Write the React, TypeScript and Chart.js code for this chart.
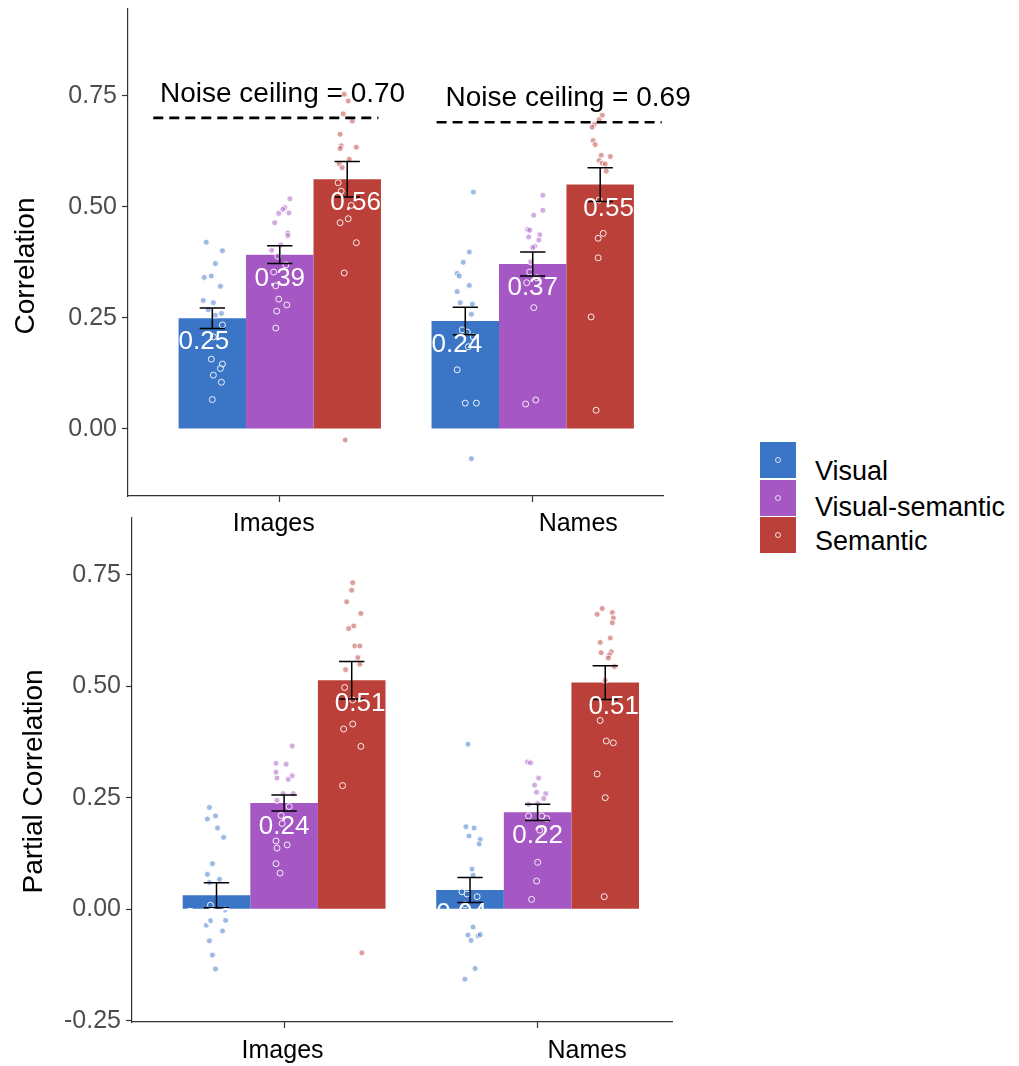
import React, { useEffect, useRef } from 'react';
import { Chart, registerables } from 'chart.js';

Chart.register(...registerables);

const FONT = '"Liberation Sans", Arial, Helvetica, sans-serif';
const AXIS_COLOR = '#333333';
const TICK_TEXT = '#4D4D4D';

// ---- categories / series ----------------------------------------------
const stimuli = ['Images', 'Names'];
const conditions = ['Visual', 'Visual-semantic', 'Semantic'];
const conditionColors = ['#3B75C6', '#A557C4', '#BC403A'];
const pointFills = ['rgba(59,117,198,0.5)', 'rgba(165,87,196,0.5)', 'rgba(188,64,58,0.5)'];

// Correlation: mean and standard error, [Images, Names]
const corrVisual = [0.249, 0.243];
const corrVisualSemantic = [0.392, 0.371];
const corrSemantic = [0.562, 0.55];
const corrSeVisual = [0.023, 0.031];
const corrSeVisualSemantic = [0.02, 0.027];
const corrSeSemantic = [0.04, 0.038];
const noiseCeiling = [0.7, 0.69];

// Partial correlation: mean and standard error, [Images, Names]
const partialVisual = [0.031, 0.043];
const partialVisualSemantic = [0.238, 0.217];
const partialSemantic = [0.513, 0.508];
const partialSeVisual = [0.028, 0.028];
const partialSeVisualSemantic = [0.018, 0.018];
const partialSeSemantic = [0.042, 0.038];

const corrTicks = [0, 0.25, 0.5, 0.75];
const partialTicks = [-0.25, 0, 0.25, 0.5, 0.75];

// Per-subject values: [horizontal jitter (category units), r]
const corrImagesVisual = [[-0.024, 0.42], [0.04, 0.401], [0.012, 0.372], [-0.032, 0.341], [-0.004, 0.344], [0.032, 0.321], [-0.036, 0.289], [0.004, 0.284], [-0.016, 0.268], [0.012, 0.256], [0.036, 0.26], [0.04, 0.234], [0.004, 0.207], [-0.004, 0.157], [0.04, 0.146], [0.032, 0.136], [0.004, 0.121], [0.036, 0.105], [0, 0.066]];
const corrImagesVisualSemantic = [[0.04, 0.518], [0.02, 0.498], [0.012, 0.494], [-0.004, 0.485], [0.036, 0.486], [-0.02, 0.464], [0.032, 0.441], [0.032, 0.435], [0.004, 0.414], [-0.032, 0.402], [-0.008, 0.389], [0.024, 0.369], [-0.024, 0.353], [-0.016, 0.322], [-0.004, 0.292], [0.028, 0.279], [-0.012, 0.265], [-0.016, 0.227]];
const corrImagesSemantic = [[-0.012, 0.753], [0.004, 0.738], [-0.016, 0.709], [0.02, 0.693], [-0.028, 0.663], [-0.024, 0.637], [-0.028, 0.631], [0.036, 0.634], [0.008, 0.607], [-0.032, 0.597], [-0.02, 0.588], [-0.036, 0.554], [-0.024, 0.535], [0.016, 0.503], [0.004, 0.473], [-0.028, 0.464], [0.036, 0.419], [-0.012, 0.351], [-0.008, -0.025]];
const corrNamesVisual = [[0.032, 0.533], [0.016, 0.398], [-0.008, 0.375], [-0.032, 0.35], [-0.024, 0.344], [0.016, 0.323], [-0.032, 0.309], [-0.02, 0.284], [0.028, 0.281], [0.024, 0.258], [-0.012, 0.223], [0.008, 0.218], [0.032, 0.207], [0.012, 0.185], [-0.032, 0.133], [0, 0.058], [0.044, 0.058], [0.024, -0.067]];
const corrNamesVisualSemantic = [[0.04, 0.526], [0.04, 0.492], [0.004, 0.481], [-0.02, 0.449], [-0.012, 0.447], [0.028, 0.437], [-0.016, 0.432], [0.024, 0.425], [0.008, 0.411], [0, 0.408], [-0.008, 0.376], [-0.012, 0.353], [0.016, 0.34], [-0.024, 0.329], [0.004, 0.273], [0.012, 0.065], [-0.028, 0.056]];
const corrNamesSemantic = [[0.008, 0.706], [-0.004, 0.696], [-0.024, 0.685], [-0.032, 0.679], [-0.028, 0.649], [-0.02, 0.64], [0.004, 0.616], [0.04, 0.613], [-0.004, 0.604], [0.008, 0.598], [0.02, 0.596], [0.024, 0.58], [-0.004, 0.515], [0.012, 0.44], [-0.008, 0.429], [-0.008, 0.385], [-0.036, 0.252], [-0.016, 0.042]];

const partialImagesVisual = [[-0.028, 0.228], [-0.036, 0.202], [-0.004, 0.209], [0.004, 0.182], [0.028, 0.161], [-0.016, 0.102], [-0.036, 0.078], [0.012, 0.067], [-0.028, 0.06], [-0.024, 0.009], [0.032, -0.002], [-0.024, -0.026], [0.036, -0.025], [-0.04, -0.036], [0.024, -0.049], [-0.028, -0.071], [-0.016, -0.103], [-0.004, -0.134]];
const partialImagesVisualSemantic = [[0.032, 0.366], [-0.032, 0.327], [0.008, 0.325], [-0.032, 0.307], [0.032, 0.299], [-0.028, 0.294], [0.016, 0.291], [-0.004, 0.259], [0.036, 0.259], [-0.028, 0.244], [0.02, 0.23], [-0.012, 0.21], [-0.008, 0.192], [-0.032, 0.153], [0.012, 0.144], [-0.028, 0.137], [-0.032, 0.102], [-0.016, 0.081]];
const partialImagesSemantic = [[0.004, 0.732], [0, 0.715], [-0.02, 0.689], [0.036, 0.663], [0.008, 0.635], [-0.012, 0.629], [0.012, 0.59], [0.032, 0.59], [0.024, 0.564], [0.032, 0.549], [-0.024, 0.537], [-0.028, 0.497], [0.004, 0.469], [0.004, 0.415], [-0.032, 0.404], [0.036, 0.365], [-0.036, 0.277], [0.04, -0.098]];
const partialNamesVisual = [[-0.008, 0.37], [-0.016, 0.185], [0.016, 0.182], [-0.004, 0.164], [0.04, 0.156], [0.036, 0.146], [0.008, 0.09], [0.012, 0.076], [-0.032, 0.039], [-0.012, 0.034], [0.028, 0.028], [-0.02, 0.01], [0.012, -0.04], [-0.008, -0.058], [0.032, -0.06], [0.04, -0.057], [0.004, -0.07], [0.02, -0.133], [-0.02, -0.157]];
const partialNamesVisualSemantic = [[-0.04, 0.33], [-0.028, 0.328], [0.004, 0.294], [-0.012, 0.278], [-0.004, 0.262], [0.032, 0.259], [0.024, 0.248], [-0.036, 0.235], [0, 0.237], [-0.036, 0.209], [0.016, 0.209], [0.036, 0.203], [0.008, 0.177], [0, 0.105], [-0.004, 0.063], [-0.024, 0.022]];
const partialNamesSemantic = [[-0.012, 0.674], [-0.032, 0.661], [0.028, 0.665], [0.032, 0.653], [0.028, 0.642], [0.02, 0.608], [-0.02, 0.598], [0.024, 0.577], [-0.016, 0.575], [0.016, 0.57], [0.012, 0.563], [0.036, 0.544], [0, 0.513], [-0.02, 0.423], [0.004, 0.377], [0.032, 0.373], [-0.032, 0.303], [0, 0.25], [-0.004, 0.028]];

// ---- layout ---------------------------------------------------------------
const CANVAS_W = 720;
const DODGE = 0.8 / 3; // bar dodge inside a category
const LABEL_DODGE = 0.3; // value-label dodge
const CAP_HALF = 0.05;

const topPanel = {
  title: 'Correlation',
  means: [corrVisual, corrVisualSemantic, corrSemantic],
  se: [corrSeVisual, corrSeVisualSemantic, corrSeSemantic],
  points: [
    [corrImagesVisual, corrNamesVisual],
    [corrImagesVisualSemantic, corrNamesVisualSemantic],
    [corrImagesSemantic, corrNamesSemantic],
  ],
  yTicks: corrTicks,
  yMin: -0.151,
  yMax: 0.945,
  xMin: 0.4,
  xMax: 2.515,
  ceiling: noiseCeiling,
  ceilingSpan: [[0.5, 1.39], [1.62, 2.51]],
  ceilingTextX: [1.011, 2.14],
  canvasTop: -16,
  canvasHeight: 561,
  padTop: 25,
  padRight: CANVAS_W - 663,
  yAxisWidth: 128,
  xAxisHeight: 49,
  titleBaselineX: 33.5,
  titleCenterY: 266,
  catLabelX: [0.976, 2.18],
  catLabelBaseline: 531,
};

const bottomPanel = {
  title: 'Partial Correlation',
  means: [partialVisual, partialVisualSemantic, partialSemantic],
  se: [partialSeVisual, partialSeVisualSemantic, partialSeSemantic],
  points: [
    [partialImagesVisual, partialNamesVisual],
    [partialImagesVisualSemantic, partialNamesVisualSemantic],
    [partialImagesSemantic, partialNamesSemantic],
  ],
  yTicks: partialTicks,
  yMin: -0.253,
  yMax: 0.877,
  xMin: 0.4,
  xMax: 2.53,
  ceiling: null as number[] | null,
  ceilingSpan: [] as number[][],
  ceilingTextX: [] as number[],
  canvasTop: 494,
  canvasHeight: 572,
  padTop: 24,
  padRight: CANVAS_W - 672,
  yAxisWidth: 132,
  xAxisHeight: 44,
  titleBaselineX: 41.7,
  titleCenterY: 781.5,
  catLabelX: [0.994, 2.195],
  catLabelBaseline: 1058,
};

function decorPlugin(p: any) {
  return {
    id: 'panelDecor',
    afterDatasetsDraw(chart: any) {
      const { ctx } = chart;
      const xs = chart.scales.x;
      const ys = chart.scales.y;
      ctx.save();

      // noise ceiling
      if (p.ceiling) {
        p.ceiling.forEach((c: number, k: number) => {
          const y = ys.getPixelForValue(c);
          ctx.beginPath();
          ctx.setLineDash([10, 6]);
          ctx.lineWidth = 2.6;
          ctx.strokeStyle = '#000';
          ctx.moveTo(xs.getPixelForValue(p.ceilingSpan[k][0]), y);
          ctx.lineTo(xs.getPixelForValue(p.ceilingSpan[k][1]), y);
          ctx.stroke();
          ctx.setLineDash([]);
          ctx.font = `28px ${FONT}`;
          ctx.fillStyle = '#000';
          ctx.textAlign = 'center';
          ctx.textBaseline = 'alphabetic';
          ctx.fillText(
            `Noise ceiling = ${c.toFixed(2)}`,
            xs.getPixelForValue(p.ceilingTextX[k]),
            ys.getPixelForValue(c + 0.036)
          );
        });
      }

      // error bars
      ctx.strokeStyle = '#000';
      ctx.lineWidth = 1.5;
      p.means.forEach((series: number[], i: number) => {
        const meta = chart.getDatasetMeta(i);
        series.forEach((m: number, k: number) => {
          const bar = meta.data[k];
          const cx = bar.x;
          const half = xs.getPixelForValue(k + 1 + CAP_HALF) - xs.getPixelForValue(k + 1);
          const yt = ys.getPixelForValue(m + p.se[i][k]);
          const yb = ys.getPixelForValue(m - p.se[i][k]);
          ctx.beginPath();
          ctx.moveTo(cx, yt);
          ctx.lineTo(cx, yb);
          ctx.moveTo(cx - half, yt);
          ctx.lineTo(cx + half, yt);
          ctx.moveTo(cx - half, yb);
          ctx.lineTo(cx + half, yb);
          ctx.stroke();
        });
      });

      // value labels
      ctx.font = `26px ${FONT}`;
      ctx.fillStyle = '#FFFFFF';
      ctx.textAlign = 'center';
      ctx.textBaseline = 'alphabetic';
      p.means.forEach((series: number[], i: number) => {
        series.forEach((m: number, k: number) => {
          const x = xs.getPixelForValue(k + 1 + (i - 1) * LABEL_DODGE);
          const y = ys.getPixelForValue(m) + 31;
          ctx.fillText(m.toFixed(2), x, y);
        });
      });
      ctx.restore();
    },
    afterDraw(chart: any) {
      const { ctx } = chart;
      const xs = chart.scales.x;
      ctx.save();
      // y-axis title
      ctx.font = `28px ${FONT}`;
      ctx.fillStyle = '#000';
      ctx.textAlign = 'center';
      ctx.textBaseline = 'alphabetic';
      ctx.translate(p.titleBaselineX, p.titleCenterY - p.canvasTop);
      ctx.rotate(-Math.PI / 2);
      ctx.fillText(p.title, 0, 0);
      ctx.restore();

      // category labels
      ctx.save();
      ctx.font = `25px ${FONT}`;
      ctx.fillStyle = '#000';
      ctx.textAlign = 'center';
      ctx.textBaseline = 'alphabetic';
      stimuli.forEach((s, k) => {
        ctx.fillText(s, xs.getPixelForValue(p.catLabelX[k]), p.catLabelBaseline - p.canvasTop);
      });
      ctx.restore();
    },
  };
}

function buildConfig(p: any) {
  const datasets: any[] = [];
  p.means.forEach((series: number[], i: number) => {
    datasets.push({
      type: 'bar',
      label: conditions[i],
      data: series.map((v, k) => ({ x: k + 1, y: v })),
      backgroundColor: conditionColors[i],
      borderWidth: 0,
      barPercentage: 1,
      categoryPercentage: 0.8,
      order: 1,
    });
  });
  p.points.forEach((groups: number[][][], i: number) => {
    datasets.push({
      type: 'scatter',
      label: `${conditions[i]} (subjects)`,
      data: groups.flatMap((pts, k) =>
        pts.map(([dx, r]) => ({ x: k + 1 + (i - 1) * DODGE + dx, y: r }))
      ),
      pointRadius: 3,
      pointBorderWidth: 1,
      pointBackgroundColor: pointFills[i],
      pointBorderColor: 'rgba(255,255,255,0.9)',
      showLine: false,
      order: 0,
    });
  });

  const gridOpts = {
    display: true,
    offset: false,
    drawOnChartArea: false,
    drawTicks: true,
    tickLength: 6,
    tickColor: AXIS_COLOR,
    tickWidth: 1.2,
  };
  const borderOpts = { display: true, color: AXIS_COLOR, width: 1.2 };

  return {
    type: 'bar',
    data: { datasets },
    options: {
      animation: false,
      responsive: false,
      events: [],
      layout: { autoPadding: false, padding: { top: p.padTop, right: p.padRight, left: 0, bottom: 0 } },
      plugins: { legend: { display: false }, tooltip: { enabled: false }, title: { display: false } },
      scales: {
        x: {
          type: 'linear',
          min: p.xMin,
          max: p.xMax,
          offset: false,
          afterBuildTicks: (s: any) => {
            s.ticks = stimuli.map((_, k) => ({ value: k + 1 }));
          },
          afterFit: (s: any) => {
            s.height = p.xAxisHeight;
          },
          ticks: { display: false },
          grid: gridOpts,
          border: borderOpts,
        },
        y: {
          type: 'linear',
          min: p.yMin,
          max: p.yMax,
          afterBuildTicks: (s: any) => {
            s.ticks = p.yTicks.map((v: number) => ({ value: v }));
          },
          afterFit: (s: any) => {
            s.width = p.yAxisWidth;
          },
          ticks: {
            callback: (v: any) => Number(v).toFixed(2),
            color: TICK_TEXT,
            font: { family: FONT, size: 25 },
            padding: 5,
          },
          grid: gridOpts,
          border: borderOpts,
        },
      },
    },
    plugins: [decorPlugin(p)],
  };
}

function Panel({ spec }: { spec: any }) {
  const ref = useRef<HTMLCanvasElement | null>(null);
  useEffect(() => {
    if (!ref.current) return;
    const chart = new Chart(ref.current, buildConfig(spec) as any);
    return () => chart.destroy();
  }, [spec]);
  return (
    <canvas
      ref={ref}
      width={CANVAS_W}
      height={spec.canvasHeight}
      style={{ position: 'absolute', left: 0, top: spec.canvasTop, width: CANVAS_W, height: spec.canvasHeight }}
    />
  );
}

const legendKeyTops = [442, 479.5, 517];
const legendTextCenters = [471, 507, 541];

function Legend() {
  return (
    <>
      {conditions.map((c, i) => (
        <React.Fragment key={c}>
          <div
            style={{
              position: 'absolute',
              left: 760,
              top: legendKeyTops[i],
              width: 36,
              height: 36,
              background: conditionColors[i],
            }}
          >
            <div
              style={{
                position: 'absolute',
                left: 15,
                top: 15,
                width: 4,
                height: 4,
                borderRadius: '50%',
                border: '1px solid rgba(255,255,255,0.8)',
              }}
            />
          </div>
          <div
            style={{
              position: 'absolute',
              left: 815,
              top: legendTextCenters[i] - 15,
              height: 30,
              lineHeight: '30px',
              fontFamily: FONT,
              fontSize: 27,
              color: '#000',
              whiteSpace: 'nowrap',
            }}
          >
            {c}
          </div>
        </React.Fragment>
      ))}
    </>
  );
}

export default function App() {
  return (
    <div
      style={{
        position: 'absolute',
        left: 0,
        top: 0,
        width: 1019,
        height: 1066,
        overflow: 'hidden',
        background: '#FFFFFF',
      }}
    >
      <Panel spec={topPanel} />
      <Panel spec={bottomPanel} />
      <Legend />
    </div>
  );
}
